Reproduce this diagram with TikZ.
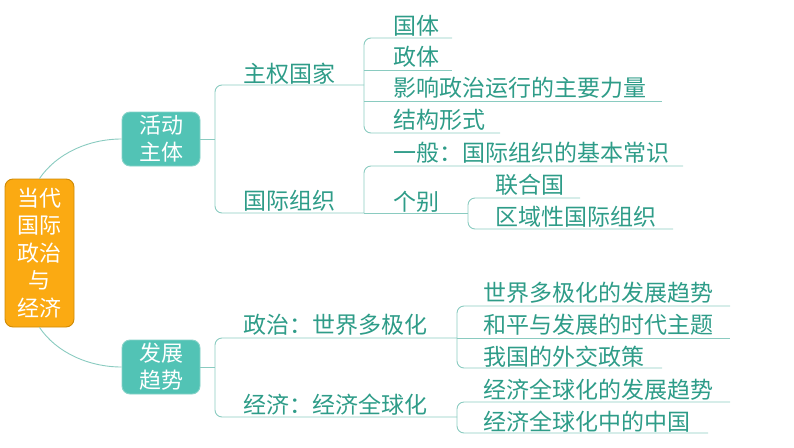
\documentclass[tikz,border=0pt]{standalone}
\usepackage{fontspec}
\setmainfont{Noto Sans CJK SC}
\definecolor{txt}{HTML}{2E9C88}
\definecolor{ln}{HTML}{8ACBC0}
\definecolor{orgfill}{HTML}{FBAA12}
\definecolor{orgdraw}{HTML}{CF8A05}
\definecolor{tealfill}{HTML}{52C3B5}
\definecolor{tealdraw}{HTML}{86D3C8}
\begin{document}
\begin{tikzpicture}[x=1pt,y=-1pt,
  lbl/.style={anchor=west,inner sep=0pt,text=txt,font=\fontsize{23}{27}\selectfont},
  conn/.style={draw=ln,line width=0.9pt,rounded corners=7pt},
  rootbox/.style={draw=orgdraw,fill=orgfill,line width=0.9pt,rounded corners=8pt,
    minimum width=69pt,minimum height=148pt,inner sep=0pt,text=white,align=center,
    font=\fontsize{22}{27.5}\selectfont},
  topicbox/.style={draw=tealdraw,fill=tealfill,line width=0.9pt,rounded corners=8pt,
    minimum width=78pt,minimum height=54pt,inner sep=0pt,text=white,align=center,
    font=\fontsize{22}{27}\selectfont}]
\useasboundingbox (0,0) rectangle (794,447);

% main boxes
\node[rootbox] (root) at (39.5,253) {当代\\国际\\政治\\与\\经济};
\node[topicbox] (a) at (161,139) {活动\\主体};
\node[topicbox] (b) at (161,367) {发展\\趋势};

\draw[conn] (root.north) .. controls (56,154) and (88,139) .. (a.west);
\draw[conn] (root.south) .. controls (56,352) and (88,367) .. (b.west);

% labels
\node[lbl] (t1) at (243,74) {主权国家};
\node[lbl] (t2) at (243,201) {国际组织};
\node[lbl] (t3) at (393,26) {国体};
\node[lbl] (t4) at (393,57) {政体};
\node[lbl] (t5) at (393,88) {影响政治运行的主要力量};
\node[lbl] (t6) at (393,120) {结构形式};
\node[lbl] (t7) at (393,153) {一般：国际组织的基本常识};
\node[lbl] (t8) at (393,202) {个别};
\node[lbl] (t9) at (495,185) {联合国};
\node[lbl] (t10) at (495,217) {区域性国际组织};
\node[lbl] (t11) at (243,325) {政治：世界多极化};
\node[lbl] (t12) at (243,405) {经济：经济全球化};
\node[lbl] (t13) at (483,293) {世界多极化的发展趋势};
\node[lbl] (t14) at (483,325) {和平与发展的时代主题};
\node[lbl] (t15) at (483,357) {我国的外交政策};
\node[lbl] (t16) at (483,390) {经济全球化的发展趋势};
\node[lbl] (t17) at (483,422) {经济全球化中的中国};

% junction coordinates
\coordinate (ja) at (215,139);
\coordinate (bA) at (364,85);
\coordinate (bB) at (364,213);
\coordinate (bC) at (468,213);
\coordinate (jb) at (215,367);
\coordinate (bD) at (457,338);
\coordinate (bE) at (457,417);
% underline ends
\coordinate (e1) at (452,38);
\coordinate (e2) at (452,70);
\coordinate (e3) at (662,101);
\coordinate (e4) at (500,133);
\coordinate (e5) at (683,166);
\coordinate (e6) at (580,198);
\coordinate (e7) at (673,229);
\coordinate (e8) at (730,306);
\coordinate (e9) at (730,338);
\coordinate (e10) at (662,368);
\coordinate (e11) at (730,402);
\coordinate (e12) at (708,433);

% upper branch
\draw[conn] (a.east) -- (ja);
\draw[conn] (bA) -- (ja |- bA) -- (ja |- bB) -- (bB);
\draw[conn] (e1) -- (bA |- e1) -- (bA |- e4) -- (e4);
\draw[conn] (bA |- e2) -- (e2);
\draw[conn] (bA |- e3) -- (e3);
\draw[conn] (e5) -- (bB |- e5) -- (bB);
\draw[conn] (bB) -- (bC);
\draw[conn] (e6) -- (bC |- e6) -- (bC |- e7) -- (e7);

% lower branch
\draw[conn] (b.east) -- (jb);
\draw[conn] (bD) -- (jb |- bD) -- (jb |- bE) -- (bE);
\draw[conn] (e8) -- (bD |- e8) -- (bD |- e10) -- (e10);
\draw[conn] (bD) -- (e9);
\draw[conn] (e11) -- (bE |- e11) -- (bE |- e12) -- (e12);
\end{tikzpicture}
\end{document}
